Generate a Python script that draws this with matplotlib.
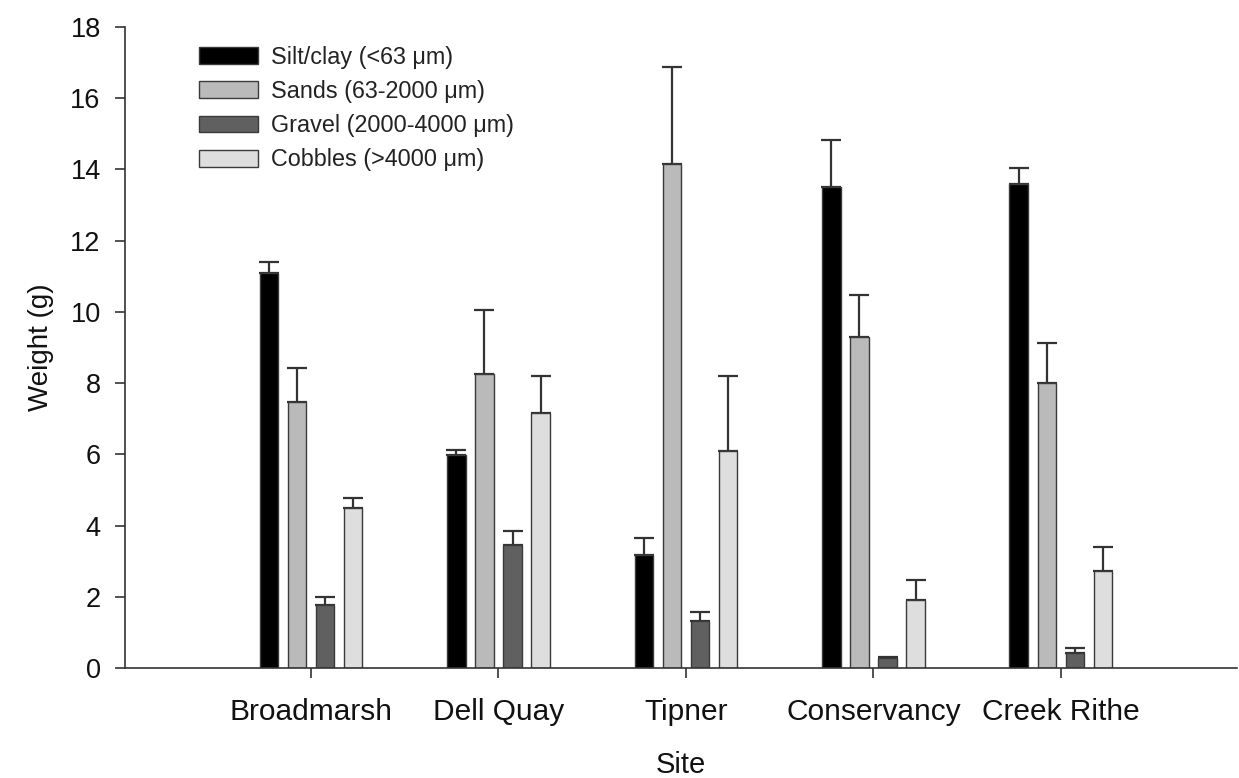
import numpy as np
import matplotlib
matplotlib.use('Agg')
import matplotlib.pyplot as plt

plt.rcParams['font.family'] = ['Liberation Sans', 'DejaVu Sans']

sites = ['Broadmarsh', 'Dell Quay', 'Tipner', 'Conservancy', 'Creek Rithe']
labels = ['Silt/clay (<63 \u03bcm)', 'Sands (63-2000 \u03bcm)',
          'Gravel (2000-4000 \u03bcm)', 'Cobbles (>4000 \u03bcm)']

silt = [11.10, 5.98, 3.17, 13.50, 13.58]
sands = [7.48, 8.26, 14.16, 9.29, 8.01]
gravel = [1.77, 3.44, 1.33, 0.27, 0.42]
cobbles = [4.48, 7.17, 6.08, 1.90, 2.71]

# upper error (SE) read as cap minus bar top
silt_err = [0.31, 0.14, 0.48, 1.34, 0.47]
sands_err = [0.94, 1.78, 2.72, 1.18, 1.13]
gravel_err = [0.22, 0.42, 0.24, 0.03, 0.13]
cobbles_err = [0.29, 1.02, 2.13, 0.58, 0.70]

colors = ['#000000', '#bababa', '#606060', '#dedede']

def main():
    fig = plt.figure(figsize=(12.39, 7.78), dpi=100)
    ax = fig.add_axes([0.1009, 0.1414, 0.8975, 0.8239])

    x = np.arange(len(sites))
    width = 0.099
    pitch = 0.150
    series = [silt, sands, gravel, cobbles]
    errs = [silt_err, sands_err, gravel_err, cobbles_err]
    for i, (vals, err) in enumerate(zip(series, errs)):
        pos = x + (i - 1.5) * pitch
        ax.bar(pos, vals, width, color=colors[i], edgecolor='#3a3a3a',
               linewidth=1.0, label=labels[i], zorder=2)
        ax.errorbar(pos, vals, yerr=[np.zeros(len(vals)), err], fmt='none',
                    ecolor='#333333', elinewidth=1.6, capsize=7,
                    capthick=1.6, zorder=1)

    ax.set_xlim(-0.992, 4.939)
    ax.set_ylim(0, 18)
    ax.set_yticks(np.arange(0, 19, 2))
    ax.set_xticks(x)
    ax.set_xticklabels(sites)
    ax.spines['top'].set_visible(False)
    ax.spines['right'].set_visible(False)
    for sp in ['left', 'bottom']:
        ax.spines[sp].set_color('#333333')
        ax.spines[sp].set_linewidth(1.2)
    ax.tick_params(axis='both', direction='out', length=7.5, width=1.2,
                   color='#333333', labelcolor='#111111')
    ax.tick_params(axis='x', pad=14, labelsize=21.5)
    ax.tick_params(axis='y', pad=10, labelsize=19.5)
    ax.set_xlabel('Site', fontsize=21, labelpad=18, color='#111111')
    ax.set_ylabel('Weight (g)', fontsize=20, labelpad=12, color='#111111')

    leg = ax.legend(loc='upper left', bbox_to_anchor=(0.05, 1.0), frameon=False,
                    fontsize=16.8, handlelength=2.53, handleheight=0.73,
                    handletextpad=0.55, labelspacing=0.48, borderaxespad=0.4)
    for t in leg.get_texts():
        t.set_color('#222222')

    fig.savefig('out.png', dpi=100)

if __name__ == '__main__':
    main()
